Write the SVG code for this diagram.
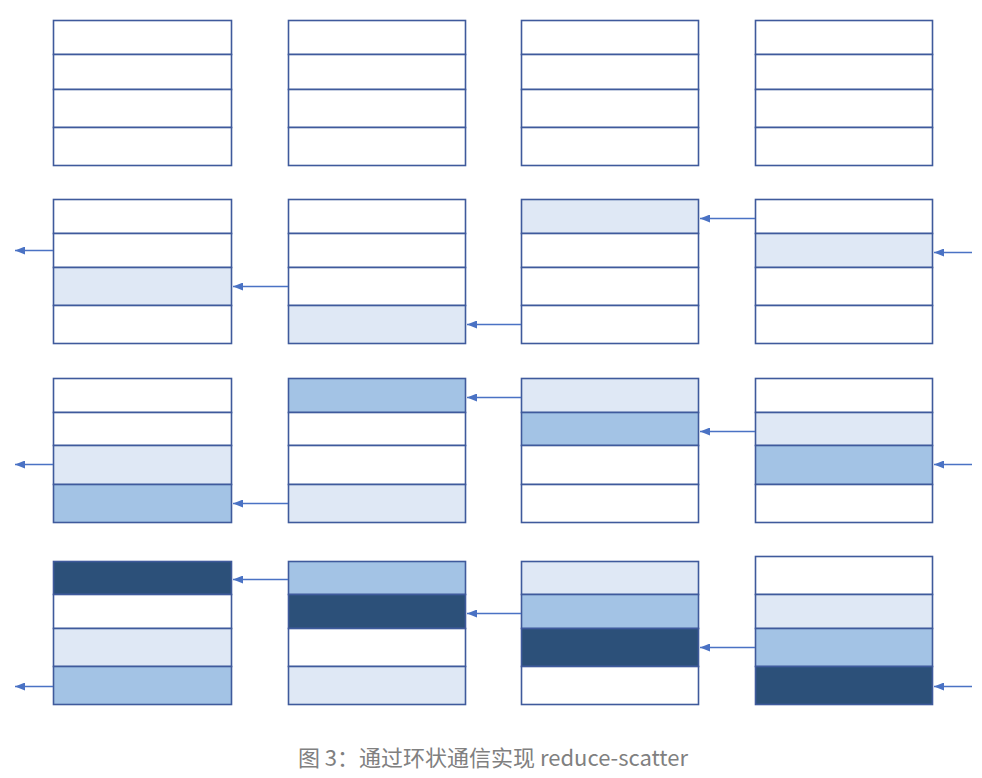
<svg xmlns="http://www.w3.org/2000/svg" width="982" height="778" viewBox="0 0 982 778">
<style>
.c{stroke:#3F5A9C;stroke-width:1.6;fill:#FFFFFF}
.l{fill:#DFE8F5}
.m{fill:#A3C3E5}
.d{fill:#2C5079}
.a{stroke:#4A72C4;stroke-width:1.6;fill:none;marker-end:url(#ah)}
.cap{font-family:"Noto Sans CJK SC","Noto Sans",sans-serif;font-size:22px;fill:#808080}
</style>
<defs>
<marker id="ah" markerUnits="userSpaceOnUse" markerWidth="10" markerHeight="8" refX="10" refY="4" orient="auto">
<path d="M0,0 L10,4 L0,8 z" fill="#4A72C4"/>
</marker>
</defs>
<rect width="982" height="778" fill="#FFFFFF"/>
<!-- Row 1 -->
<g id="r1c1"><rect class="c" x="53.5" y="20.5" width="178" height="34"/><rect class="c" x="53.5" y="54.5" width="178" height="35"/><rect class="c" x="53.5" y="89.5" width="178" height="38"/><rect class="c" x="53.5" y="127.5" width="178" height="38"/></g>
<g id="r1c2"><rect class="c" x="288.5" y="20.5" width="177" height="34"/><rect class="c" x="288.5" y="54.5" width="177" height="35"/><rect class="c" x="288.5" y="89.5" width="177" height="38"/><rect class="c" x="288.5" y="127.5" width="177" height="38"/></g>
<g id="r1c3"><rect class="c" x="521.5" y="20.5" width="177" height="34"/><rect class="c" x="521.5" y="54.5" width="177" height="35"/><rect class="c" x="521.5" y="89.5" width="177" height="38"/><rect class="c" x="521.5" y="127.5" width="177" height="38"/></g>
<g id="r1c4"><rect class="c" x="755.5" y="20.5" width="177" height="34"/><rect class="c" x="755.5" y="54.5" width="177" height="35"/><rect class="c" x="755.5" y="89.5" width="177" height="38"/><rect class="c" x="755.5" y="127.5" width="177" height="38"/></g>
<!-- Row 2 -->
<g id="r2c1"><rect class="c" x="53.5" y="199.5" width="178" height="34"/><rect class="c" x="53.5" y="233.5" width="178" height="34"/><rect class="c l" x="53.5" y="267.5" width="178" height="38"/><rect class="c" x="53.5" y="305.5" width="178" height="38"/></g>
<g id="r2c2"><rect class="c" x="288.5" y="199.5" width="177" height="34"/><rect class="c" x="288.5" y="233.5" width="177" height="34"/><rect class="c" x="288.5" y="267.5" width="177" height="38"/><rect class="c l" x="288.5" y="305.5" width="177" height="38"/></g>
<g id="r2c3"><rect class="c l" x="521.5" y="199.5" width="177" height="34"/><rect class="c" x="521.5" y="233.5" width="177" height="34"/><rect class="c" x="521.5" y="267.5" width="177" height="38"/><rect class="c" x="521.5" y="305.5" width="177" height="38"/></g>
<g id="r2c4"><rect class="c" x="755.5" y="199.5" width="177" height="34"/><rect class="c l" x="755.5" y="233.5" width="177" height="34"/><rect class="c" x="755.5" y="267.5" width="177" height="38"/><rect class="c" x="755.5" y="305.5" width="177" height="38"/></g>
<!-- Row 3 -->
<g id="r3c1"><rect class="c" x="53.5" y="378.5" width="178" height="34"/><rect class="c" x="53.5" y="412.5" width="178" height="33"/><rect class="c l" x="53.5" y="445.5" width="178" height="39"/><rect class="c m" x="53.5" y="484.5" width="178" height="38"/></g>
<g id="r3c2"><rect class="c m" x="288.5" y="378.5" width="177" height="34"/><rect class="c" x="288.5" y="412.5" width="177" height="33"/><rect class="c" x="288.5" y="445.5" width="177" height="39"/><rect class="c l" x="288.5" y="484.5" width="177" height="38"/></g>
<g id="r3c3"><rect class="c l" x="521.5" y="378.5" width="177" height="34"/><rect class="c m" x="521.5" y="412.5" width="177" height="33"/><rect class="c" x="521.5" y="445.5" width="177" height="39"/><rect class="c" x="521.5" y="484.5" width="177" height="38"/></g>
<g id="r3c4"><rect class="c" x="755.5" y="378.5" width="177" height="34"/><rect class="c l" x="755.5" y="412.5" width="177" height="33"/><rect class="c m" x="755.5" y="445.5" width="177" height="39"/><rect class="c" x="755.5" y="484.5" width="177" height="38"/></g>
<!-- Row 4 -->
<g id="r4c1"><rect class="c d" x="53.5" y="561.5" width="178" height="33"/><rect class="c" x="53.5" y="594.5" width="178" height="34"/><rect class="c l" x="53.5" y="628.5" width="178" height="38"/><rect class="c m" x="53.5" y="666.5" width="178" height="38"/></g>
<g id="r4c2"><rect class="c m" x="288.5" y="561.5" width="177" height="33"/><rect class="c d" x="288.5" y="594.5" width="177" height="34"/><rect class="c" x="288.5" y="628.5" width="177" height="38"/><rect class="c l" x="288.5" y="666.5" width="177" height="38"/></g>
<g id="r4c3"><rect class="c l" x="521.5" y="561.5" width="177" height="33"/><rect class="c m" x="521.5" y="594.5" width="177" height="34"/><rect class="c d" x="521.5" y="628.5" width="177" height="38"/><rect class="c" x="521.5" y="666.5" width="177" height="38"/></g>
<g id="r4c4"><rect class="c" x="755.5" y="556.5" width="177" height="38"/><rect class="c l" x="755.5" y="594.5" width="177" height="34"/><rect class="c m" x="755.5" y="628.5" width="177" height="38"/><rect class="c d" x="755.5" y="666.5" width="177" height="38"/></g>
<!-- Connectors -->
<g id="connectors">
<line class="a" x1="755" y1="218.5" x2="700" y2="218.5"/>
<line class="a" x1="972" y1="252.5" x2="934" y2="252.5"/>
<line class="a" x1="521" y1="324.5" x2="467" y2="324.5"/>
<line class="a" x1="288" y1="286.5" x2="233" y2="286.5"/>
<line class="a" x1="53" y1="250.5" x2="15" y2="250.5"/>
<line class="a" x1="755" y1="431.5" x2="700" y2="431.5"/>
<line class="a" x1="521" y1="397.5" x2="467" y2="397.5"/>
<line class="a" x1="288" y1="503.5" x2="233" y2="503.5"/>
<line class="a" x1="53" y1="464.5" x2="15" y2="464.5"/>
<line class="a" x1="972" y1="464.5" x2="934" y2="464.5"/>
<line class="a" x1="755" y1="647.5" x2="700" y2="647.5"/>
<line class="a" x1="521" y1="613.5" x2="467" y2="613.5"/>
<line class="a" x1="288" y1="579.5" x2="233" y2="579.5"/>
<line class="a" x1="53" y1="686.5" x2="15" y2="686.5"/>
<line class="a" x1="972" y1="686.5" x2="934" y2="686.5"/>
</g>
<text class="cap" x="493" y="766" text-anchor="middle">图 3：通过环状通信实现 reduce-scatter</text>
</svg>
